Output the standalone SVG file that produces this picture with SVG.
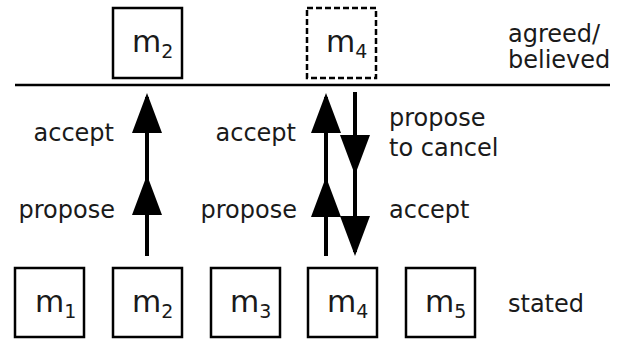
<svg xmlns="http://www.w3.org/2000/svg" width="620" height="341" viewBox="0 0 620 341">
<style>
.box{fill:#fff;stroke:#000;stroke-width:2.5}
.dash{stroke-dasharray:6,3}
.m{font-family:"DejaVu Sans",Verdana,sans-serif;font-size:30px;fill:#1a1a1a}
.sub{font-size:19px}
.lbl{font-family:"DejaVu Sans",Verdana,sans-serif;font-size:24px;fill:#1a1a1a}
.arr{fill:none;stroke:#000;stroke-width:4;marker-mid:url(#ah);marker-end:url(#ah)}
</style>
<defs>
<marker id="ah" markerUnits="userSpaceOnUse" markerWidth="40" markerHeight="30" refX="36" refY="15" orient="auto" viewBox="0 0 40 30">
<path d="M0,0 L40,15 L0,30 Z" fill="#000"/>
</marker>
</defs>
<rect width="620" height="341" fill="#fff"/>
<line x1="15" y1="85" x2="610" y2="85" stroke="#000" stroke-width="2.5"/>
<g id="top-m2"><rect class="box" x="113" y="8" width="69" height="70"/><text class="m" x="132" y="52">m<tspan class="sub" dy="6">2</tspan></text></g>
<g id="top-m4"><rect class="box dash" x="307" y="8" width="69" height="70"/><text class="m" x="326" y="52">m<tspan class="sub" dy="6">4</tspan></text></g>
<g id="b-m1"><rect class="box" x="15" y="268" width="69" height="69"/><text class="m" x="35" y="312">m<tspan class="sub" dy="6">1</tspan></text></g>
<g id="b-m2"><rect class="box" x="113" y="268" width="69" height="69"/><text class="m" x="132" y="312">m<tspan class="sub" dy="6">2</tspan></text></g>
<g id="b-m3"><rect class="box" x="211" y="268" width="69" height="69"/><text class="m" x="230" y="312">m<tspan class="sub" dy="6">3</tspan></text></g>
<g id="b-m4"><rect class="box" x="308" y="268" width="69" height="69"/><text class="m" x="327" y="312">m<tspan class="sub" dy="6">4</tspan></text></g>
<g id="b-m5"><rect class="box" x="406" y="268" width="69" height="69"/><text class="m" x="425" y="312">m<tspan class="sub" dy="6">5</tspan></text></g>
<g id="labels">
<text class="lbl" x="508" y="42">agreed/</text>
<text class="lbl" x="508" y="68">believed</text>
<text class="lbl" x="508" y="312">stated</text>
<text class="lbl" x="114" y="141" text-anchor="end">accept</text>
<text class="lbl" x="115" y="218" text-anchor="end">propose</text>
<text class="lbl" x="296" y="141" text-anchor="end">accept</text>
<text class="lbl" x="297" y="218" text-anchor="end">propose</text>
<text class="lbl" x="389" y="126">propose</text>
<text class="lbl" x="389" y="156">to cancel</text>
<text class="lbl" x="389" y="218">accept</text>
</g>
<g id="connectors">
<path class="arr" d="M147,256 L147,179 L147,97"/>
<path class="arr" d="M326,256 L326,181 L326,97"/>
<path class="arr" d="M355,92 L355,171 L355,252"/>
</g>
</svg>
